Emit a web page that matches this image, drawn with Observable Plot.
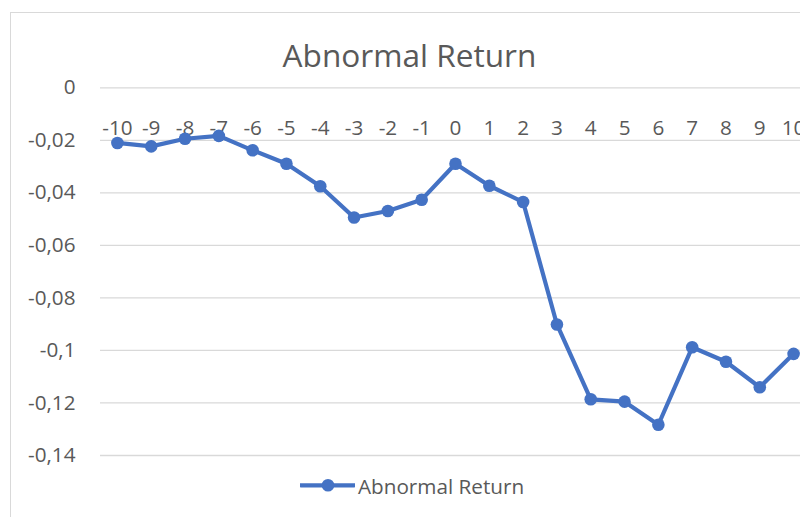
<!DOCTYPE html>
<html>
<head>
<meta charset="utf-8">
<script src="https://cdn.jsdelivr.net/npm/d3@7"></script>
<script src="https://cdn.jsdelivr.net/npm/@observablehq/plot@0.6"></script>
<style>
  html, body { margin: 0; padding: 0; background: #fff; }
  #wrap { position: relative; width: 800px; height: 517px; overflow: hidden; background: #fff; font-family: "Open Sans", sans-serif; color: #595959; }
  #border { position: absolute; left: 10px; top: 12px; width: 1000px; height: 1000px; border: 1.3px solid #d9d9d9; box-sizing: border-box; }
  #title { position: absolute; left: 0; width: 819px; top: 39px; text-align: center; font-size: 31.6px; line-height: 32px; color: #595959; }
  #chart { position: absolute; left: 0; top: 75px; width: 830px; }
  #chart svg { max-width: none !important; }
  #legend { position: absolute; left: 300px; top: 471.4px; height: 28.6px; display: flex; align-items: center; font-size: 20.7px; color: #595959; white-space: nowrap; }
  #legend span { margin-left: 3px; }
</style>
</head>
<body>
<div id="wrap">
  <div id="border"></div>
  <div id="title"></div>
  <div id="chart"></div>
  <div id="legend"></div>
</div>
<script>
const chartTitle = "Abnormal Return";
const seriesName = "Abnormal Return";
const days = [-10, -9, -8, -7, -6, -5, -4, -3, -2, -1, 0, 1, 2, 3, 4, 5, 6, 7, 8, 9, 10];
const abnormalReturn = [-0.0210, -0.0223, -0.0194, -0.0183, -0.0238, -0.0289, -0.0375, -0.0494, -0.0469, -0.0426,
  -0.0289, -0.0373, -0.0435, -0.0901, -0.1186, -0.1195, -0.1283, -0.0988, -0.1043, -0.1140, -0.1013];
const yTicks = [0, -0.02, -0.04, -0.06, -0.08, -0.1, -0.12, -0.14];
const lineColor = "#4472C4";

const data = days.map((d, i) => ({day: d, value: abnormalReturn[i]}));
const fmtY = v => v === 0 ? "0" : String(v).replace(".", ",");

document.getElementById("title").textContent = chartTitle;

const plot = Plot.plot({
  width: 830,
  height: 390,
  marginLeft: 100,
  marginRight: 20,
  marginTop: 12.3,
  marginBottom: 10,
  style: {fontFamily: "'Open Sans', sans-serif", fontSize: "20.7px", color: "#595959", background: "transparent", overflow: "visible", maxWidth: "none"},
  x: {type: "point", domain: days, padding: 0.5, align: 0.5, round: false},
  y: {domain: [-0.14, 0]},
  marks: [
    Plot.gridY(yTicks, {stroke: "#d9d9d9", strokeOpacity: 1, strokeWidth: 1.3}),
    Plot.axisY(yTicks, {anchor: "left", tickSize: 0, tickPadding: 25, tickFormat: fmtY, label: null, fill: "#595959"}),
    Plot.axisX(days, {anchor: "top", tickSize: 0, tickPadding: 0, dy: 47, label: null, fill: "#595959", tickFormat: d => String(d)}),
    Plot.line(data, {x: "day", y: "value", stroke: lineColor, strokeWidth: 4.2, strokeLinejoin: "round", strokeLinecap: "round"}),
    Plot.dot(data, {x: "day", y: "value", r: 6.3, fill: lineColor, stroke: null})
  ]
});
document.getElementById("chart").appendChild(plot);

// legend
const legend = d3.select("#legend");
const lsvg = legend.append("svg").attr("width", 55).attr("height", 28.6);
lsvg.append("line").attr("x1", 1).attr("x2", 54).attr("y1", 14.3).attr("y2", 14.3)
  .attr("stroke", lineColor).attr("stroke-width", 4.2).attr("stroke-linecap", "round");
lsvg.append("circle").attr("cx", 28).attr("cy", 14.3).attr("r", 6.3).attr("fill", lineColor);
legend.append("span").text(seriesName);
</script>
</body>
</html>
